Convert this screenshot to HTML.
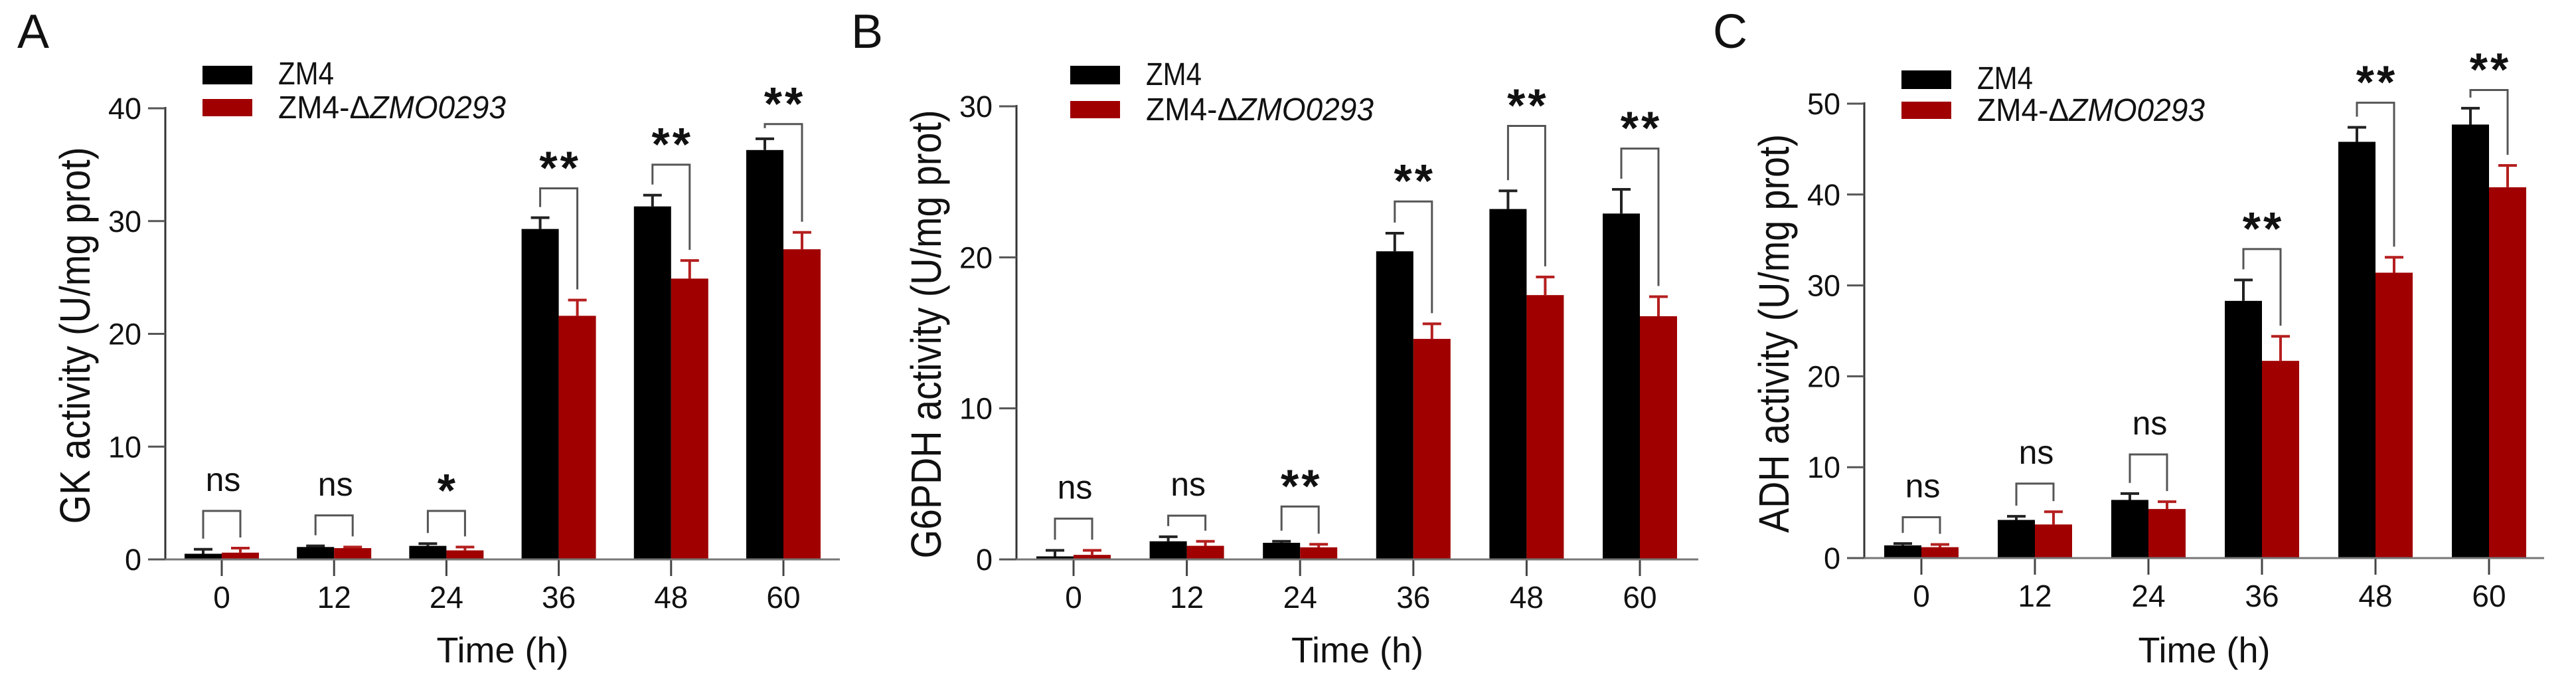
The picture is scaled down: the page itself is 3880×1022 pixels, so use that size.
<!DOCTYPE html>
<html><head><meta charset="utf-8">
<style>
html,body{margin:0;padding:0;background:#fff;}
svg{display:block;}
text{font-family:"Liberation Sans",Arial,sans-serif;}
</style></head>
<body>
<svg id="fig" width="3880" height="1022" viewBox="0 0 3880 1022" xmlns="http://www.w3.org/2000/svg"></svg>
<script>
const categories = ["0","12","24","36","48","60"];
// Panel A (GK)
const gkWT = [0.5, 1.1, 1.2, 29.3, 31.3, 36.3];
const gkWTerr = [0.4, 0.1, 0.2, 1.0, 1.0, 1.0];
const gkMut = [0.6, 1.0, 0.8, 21.6, 24.9, 27.5];
const gkMuterr = [0.4, 0.1, 0.3, 1.4, 1.6, 1.5];
const gkSig = ["ns","ns","*","**","**","**"];
const gkBracket = [4.3, 3.9, 4.3, 32.9, 35.0, 38.6];
const gkTicks = [0,10,20,30,40];
// Panel B (G6PDH)
const g6WT = [0.2, 1.2, 1.1, 20.4, 23.2, 22.9];
const g6WTerr = [0.4, 0.3, 0.1, 1.2, 1.2, 1.6];
const g6Mut = [0.3, 0.9, 0.8, 14.6, 17.5, 16.1];
const g6Muterr = [0.3, 0.3, 0.2, 1.0, 1.2, 1.3];
const g6Sig = ["ns","ns","**","**","**","**"];
const g6Bracket = [2.7, 2.9, 3.5, 23.7, 28.7, 27.2];
const g6Ticks = [0,10,20,30];
// Panel C (ADH)
const adhWT = [1.4, 4.2, 6.4, 28.3, 45.8, 47.7];
const adhWTerr = [0.2, 0.4, 0.7, 2.3, 1.6, 1.8];
const adhMut = [1.2, 3.7, 5.4, 21.7, 31.4, 40.8];
const adhMuterr = [0.3, 1.4, 0.8, 2.7, 1.7, 2.4];
const adhSig = ["ns","ns","ns","**","**","**"];
const adhBracket = [4.5, 8.2, 11.4, 34.0, 50.1, 51.5];
const adhTicks = [0,10,20,30,40,50];

const NS = "http://www.w3.org/2000/svg";
const svg = document.getElementById("fig");
function mk(tag, attrs, parent){
  const e = document.createElementNS(NS, tag);
  for (const k in attrs) e.setAttribute(k, attrs[k]);
  (parent||svg).appendChild(e);
  return e;
}

const panels = [
  {id:"a", letter:"A", lx:26, ax:249, xEnd:1265, c0:334, c5:1180, y0:842, yTop:163, max:40, ticks:gkTicks,
   wt:gkWT, wte:gkWTerr, mu:gkMut, mue:gkMuterr, sig:gkSig, br:gkBracket,
   title:"GK activity (U/mg prot)", tlen:567, tcy:505,
   legX:305, legY:[99,149], legB:[127,178]},
  {id:"b", letter:"B", lx:1282, ax:1531, xEnd:2558, c0:1617, c5:2470, y0:842, yTop:160, max:30, ticks:g6Ticks,
   wt:g6WT, wte:g6WTerr, mu:g6Mut, mue:g6Muterr, sig:g6Sig, br:g6Bracket,
   title:"G6PDH activity (U/mg prot)", tlen:675, tcy:503,
   legX:1612, legY:[99,152], legB:[128,181]},
  {id:"c", letter:"C", lx:2580, ax:2808, xEnd:3832, c0:2894, c5:3749, y0:840, yTop:156, max:50, ticks:adhTicks,
   wt:adhWT, wte:adhWTerr, mu:adhMut, mue:adhMuterr, sig:adhSig, br:adhBracket,
   title:"ADH activity (U/mg prot)", tlen:600, tcy:502,
   legX:2864, legY:[106,153], legB:[134,182]}
];

panels.forEach(p => {
  const g = mk("g", {});
  
  
  const yS = v => p.y0 - (v / p.max) * (p.y0 - p.yTop);
  const xS = i => p.c0 + i * (p.c5 - p.c0) / (categories.length - 1);
  const bw = 56;

  const letter = mk("text", {x:p.lx, y:72, "font-size":72, fill:"#111"}, g);
  letter.textContent = p.letter;
  
  

  // bars
  categories.forEach((c, i) => {
    const cx = xS(i);
    const b1 = mk("rect", {x:cx-bw, y:yS(p.wt[i]), width:bw, height:p.y0-yS(p.wt[i]), fill:"#000"}, g);
    
    
    const b2 = mk("rect", {x:cx, y:yS(p.mu[i]), width:bw, height:p.y0-yS(p.mu[i]), fill:"#a00000"}, g);
    
    
    // error bars
    const e1t = yS(p.wt[i] + p.wte[i]);
    const e1 = mk("path", {d:`M${cx-bw/2},${yS(p.wt[i])}V${e1t}M${cx-bw/2-14},${e1t}H${cx-bw/2+14}`, stroke:"#222", "stroke-width":4, fill:"none"}, g);
    
    
    const e2t = yS(p.mu[i] + p.mue[i]);
    const e2 = mk("path", {d:`M${cx+bw/2},${yS(p.mu[i])}V${e2t}M${cx+bw/2-14},${e2t}H${cx+bw/2+14}`, stroke:"#b51f1f", "stroke-width":4, fill:"none"}, g);
    
    
    // bracket
    const by = yS(p.br[i]);
    const bl = Math.max(by, e1t - 16), br = Math.max(by, e2t - 16);
    const bk = mk("path", {d:`M${cx-bw/2},${bl}V${by}H${cx+bw/2}V${br}`, stroke:"#555", "stroke-width":3, fill:"none"}, g);
    
    
    let st;
    if (p.sig[i] === "ns") {
      st = mk("text", {x:cx+2, y:by-30, "font-size":50, "text-anchor":"middle", fill:"#111"}, g);
    } else {
      st = mk("text", {x:cx+2, y:by-7, "font-size":70, "font-weight":"bold", "text-anchor":"middle", "letter-spacing":4, fill:"#111"}, g);
    }
    st.textContent = p.sig[i];
    
    
    // x tick + label
    const xt = mk("line", {x1:cx, y1:p.y0, x2:cx, y2:p.y0+25, stroke:"#444", "stroke-width":3}, g);
    
    
    const xl = mk("text", {x:cx, y:p.y0+73, "font-size":46, "text-anchor":"middle", fill:"#111"}, g);
    xl.textContent = c;
    
    
  });

  // axes
  const ya = mk("line", {x1:p.ax, y1:p.yTop-2, x2:p.ax, y2:p.y0, stroke:"#333", "stroke-width":3}, g);
  
  
  const xa = mk("line", {x1:p.ax-26, y1:p.y0, x2:p.xEnd, y2:p.y0, stroke:"#777", "stroke-width":3}, g);
  
  
  p.ticks.forEach(t => {
    const y = yS(t);
    const tk = mk("line", {x1:p.ax-26, y1:y, x2:p.ax, y2:y, stroke:"#555", "stroke-width":3}, g);
    
    
    const tl = mk("text", {x:p.ax-36, y:y+16, "font-size":45, "text-anchor":"end", fill:"#111"}, g);
    tl.textContent = t;
    
    
  });

  // y title
  const tx = p.ax - 114;
  const yt = mk("text", {x:tx, y:p.tcy, "font-size":64, "text-anchor":"middle", transform:`rotate(-90 ${tx} ${p.tcy})`, textLength:p.tlen, lengthAdjust:"spacingAndGlyphs", fill:"#111"}, g);
  yt.textContent = p.title;
  
  
  // x title
  const xtt = mk("text", {x:(p.ax+p.xEnd)/2, y:997, "font-size":54, "text-anchor":"middle", fill:"#111"}, g);
  xtt.textContent = "Time (h)";
  
  

  // legend
  const l1 = mk("rect", {x:p.legX, y:p.legY[0], width:75, height:28, fill:"#000"}, g);
  
  
  const l2 = mk("rect", {x:p.legX, y:p.legY[1], width:75, height:26, fill:"#a00000"}, g);
  
  
  const t1 = mk("text", {x:p.legX+114, y:p.legB[0], "font-size":48, textLength:84, lengthAdjust:"spacingAndGlyphs", fill:"#111"}, g);
  t1.textContent = "ZM4";
  
  
  const t2 = mk("text", {x:p.legX+114, y:p.legB[1], "font-size":48, textLength:343, lengthAdjust:"spacingAndGlyphs", fill:"#111"}, g);
  t2.innerHTML = 'ZM4-Δ<tspan font-style="italic">ZMO0293</tspan>';
  
  
});
</script>
</body></html>
